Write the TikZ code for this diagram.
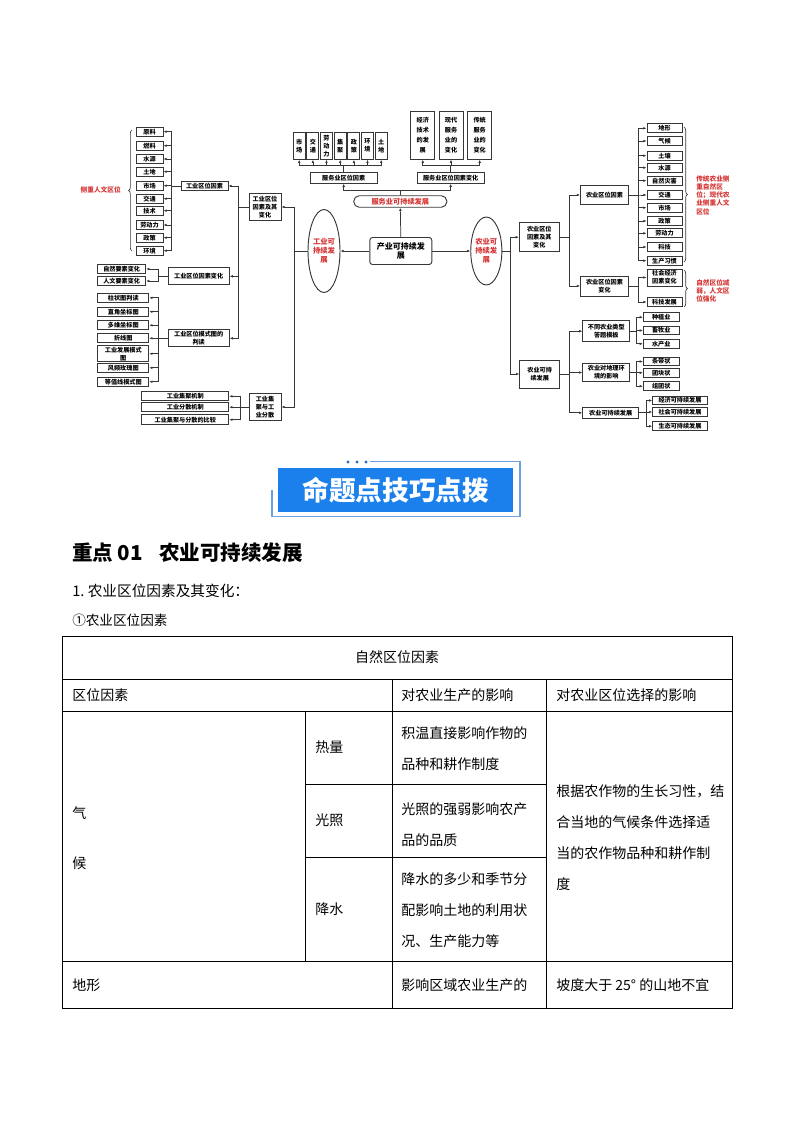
\documentclass[tikz,border=0pt]{standalone}
\usepackage{fontspec}
\setmainfont{Noto Sans CJK SC}
\usepackage{tikz}
\usetikzlibrary{arrows.meta,shapes.geometric,decorations.pathreplacing}
\definecolor{linec}{RGB}{55,55,55}
\definecolor{redtxt}{RGB}{214,52,52}
\definecolor{bannerblue}{RGB}{28,128,236}
\definecolor{framec}{RGB}{110,160,225}
\definecolor{dotc}{RGB}{40,110,200}
\newcommand\mfont{\fontsize{4.6}{6}\selectfont\bfseries}
\tikzset{
  box/.style={draw=linec, line width=0.7pt, fill=white, inner sep=0.6pt, align=center, font=\mfont},
  leaf/.style={box, minimum width=20.25pt, minimum height=6.6pt},
  rleaf/.style={box, minimum width=26.25pt, minimum height=6.6pt},
  vbox/.style={box, minimum width=9pt, minimum height=20.25pt, inner sep=0pt},
  tbox/.style={box, minimum width=18pt, minimum height=36pt, inner sep=0pt, font=\fontsize{4.6}{7.5}\selectfont\bfseries},
  oval/.style={draw=linec, line width=0.7pt, ellipse, fill=white, inner sep=0pt, align=center, text=redtxt, font=\fontsize{5.5}{6.8}\selectfont\bfseries},
  redlbl/.style={text=redtxt, align=left, font=\fontsize{5}{6.2}\selectfont\bfseries, inner sep=0pt},
  arrow/.style={draw=linec, line width=0.55pt, -{Latex[length=2.4pt,width=2pt]}},
  brace/.style={draw=linec, line width=0.5pt, decorate, decoration={brace, amplitude=2.5pt}},
  cell/.style={font=\fontsize{10.5}{23.25}\selectfont, align=left, inner sep=0pt, anchor=west},
  grid/.style={line width=0.75pt}
}
\begin{document}
\begin{tikzpicture}[x=0.75pt,y=-0.75pt]
  \useasboundingbox (0,0) rectangle (794,1123);

  % industry side
  \node[leaf] (a1) at (149.5,131.7) {原料};
  \node[leaf] (a2) at (149.5,145.7) {燃料};
  \node[leaf] (a3) at (149.5,159) {水源};
  \node[leaf] (a4) at (149.5,171.7) {土地};
  \node[leaf] (a5) at (149.5,185.7) {市场};
  \node[leaf] (a6) at (149.5,198.7) {交通};
  \node[leaf] (a7) at (149.5,210.7) {技术};
  \node[leaf] (a8) at (149.5,225) {劳动力};
  \node[leaf] (a9) at (149.5,237.7) {政策};
  \node[leaf] (a10) at (149.5,250.7) {环境};
  \draw[brace] (132,251) -- (132,130);
  \node[redlbl, anchor=east] (lbl1) at (121,190) {侧重人文区位};

  \node[box, minimum width=35.25pt, minimum height=6.4pt] (g11) at (204.5,186) {工业区位因素};
  \node[box, minimum width=45.75pt, minimum height=12.75pt] (g12) at (198.7,276.3) {工业区位因素变化};
  \node[box, minimum width=45.75pt, minimum height=12.75pt] (g13) at (198.7,338.3) {工业区位模式图的\\判读};

  \node[box, minimum width=36pt, minimum height=6.4pt] (b1) at (121.7,269) {自然要素变化};
  \node[box, minimum width=36pt, minimum height=6.4pt] (b2) at (121.7,281) {人文要素变化};

  \node[box, minimum width=38.25pt, minimum height=6.75pt] (c1) at (123.3,297.8) {柱状图判读};
  \node[box, minimum width=38.25pt, minimum height=6.75pt] (c2) at (123.3,311.7) {直角坐标图};
  \node[box, minimum width=38.25pt, minimum height=6.75pt] (c3) at (123.3,325.3) {多维坐标图};
  \node[box, minimum width=38.25pt, minimum height=6.75pt] (c4) at (123.3,338.3) {折线图};
  \node[box, minimum width=38.25pt, minimum height=12pt] (c5) at (123.3,353.7) {工业发展模式\\图};
  \node[box, minimum width=38.25pt, minimum height=6.75pt] (c6) at (123.3,367.8) {风频玫瑰图};
  \node[box, minimum width=38.25pt, minimum height=6.75pt] (c7) at (123.3,381.7) {等值线模式图};

  \node[box, minimum width=24pt, minimum height=20.25pt] (g1) at (265,207) {工业区位\\因素及其\\变化};
  \node[box, minimum width=24pt, minimum height=20.25pt] (g2) at (265,407) {工业集\\聚与工\\业分散};

  \node[box, minimum width=65.25pt, minimum height=6.75pt] (d1) at (185.3,396.3) {工业集聚机制};
  \node[box, minimum width=65.25pt, minimum height=6.75pt] (d2) at (185.3,407.2) {工业分散机制};
  \node[box, minimum width=65.25pt, minimum height=7.5pt] (d3) at (185.3,419.7) {工业集聚与分散的比较};

  \node[oval, minimum width=24pt, minimum height=62.25pt] (gy) at (324,251) {工业可\\持续发\\展};

  % centre and services
  \node[box, rounded corners=2pt, minimum width=46.5pt, minimum height=20.25pt, font=\fontsize{6}{7}\selectfont\bfseries] (cy) at (400.8,251) {产业可持续发\\展};
  \node[box, rounded corners=4pt, minimum width=69.75pt, minimum height=8.6pt, text=redtxt, font=\fontsize{5.4}{6}\selectfont\bfseries] (fw) at (400.3,201.5) {服务业可持续发展};
  \node[box, minimum width=50.25pt, minimum height=8.25pt] (fw1) at (343.7,177.7) {服务业区位因素};
  \node[box, minimum width=50.25pt, minimum height=8.25pt] (fw2) at (450.7,177.7) {服务业区位因素变化};

  \node[vbox] (s1) at (299.2,145.8) {市\\场};
  \node[vbox] (s2) at (312.9,145.8) {交\\通};
  \node[vbox] (s3) at (326.5,145.8) {劳\\动\\力};
  \node[vbox] (s4) at (340.2,145.8) {集\\聚};
  \node[vbox] (s5) at (353.9,145.8) {政\\策};
  \node[vbox] (s6) at (367.5,145.8) {环\\境};
  \node[vbox] (s7) at (381.2,145.8) {土\\地};

  \node[tbox] (t1) at (422.8,135.2) {经济\\技术\\的发\\展};
  \node[tbox] (t2) at (451,135.2) {现代\\服务\\业的\\变化};
  \node[tbox] (t3) at (479.7,135.2) {传统\\服务\\业的\\变化};

  % agriculture side
  \node[oval, minimum width=23.25pt, minimum height=51pt] (ny) at (486.3,251) {农业可\\持续发\\展};
  \node[box, minimum width=30pt, minimum height=21.75pt] (n1) at (539.3,237.2) {农业区位\\因素及其\\变化};
  \node[box, minimum width=30pt, minimum height=21pt] (n2) at (539.7,374) {农业可持\\续发展};
  \node[box, minimum width=36pt, minimum height=14.25pt] (n11) at (604.5,195) {农业区位因素};
  \node[box, minimum width=36pt, minimum height=15pt] (n12) at (604.5,286) {农业区位因素\\变化};

  \node[rleaf] (e1) at (664.5,128.3) {地形};
  \node[rleaf] (e2) at (664.5,141) {气候};
  \node[rleaf] (e3) at (664.5,155.7) {土壤};
  \node[rleaf] (e4) at (664.5,167.7) {水源};
  \node[rleaf] (e5) at (664.5,180.7) {自然灾害};
  \node[rleaf] (e6) at (664.5,195) {交通};
  \node[rleaf] (e7) at (664.5,207.7) {市场};
  \node[rleaf] (e8) at (664.5,221) {政策};
  \node[rleaf] (e9) at (664.5,233.3) {劳动力};
  \node[rleaf] (e10) at (664.5,247) {科技};
  \node[rleaf] (e11) at (664.5,260.7) {生产习惯};
  \node[rleaf, minimum height=12.75pt] (e12) at (664.5,277.5) {社会经济\\因素变化};
  \node[rleaf] (e13) at (664.5,302) {科技发展};
  \draw[brace] (684,127) -- (684,262);
  \draw[brace] (684,270) -- (684,307);
  \node[redlbl, anchor=west] (lbl2) at (696,195) {传统农业侧\\重自然区\\位；现代农\\业侧重人文\\区位};
  \node[redlbl, anchor=west] (lbl3) at (696,291) {自然区位减\\弱，人文区\\位强化};

  \node[box, minimum width=35.25pt, minimum height=15.75pt] (n21) at (606.3,331.2) {不同农业类型\\答题模板};
  \node[box, minimum width=35.25pt, minimum height=13.5pt] (n22) at (606.3,372.5) {农业对地理环\\境的影响};
  \node[box, minimum width=42pt, minimum height=8.25pt] (n23) at (610.7,412.8) {农业可持续发展};

  \node[box, minimum width=26.75pt, minimum height=6.4pt] (k1) at (661.2,317.2) {种植业};
  \node[box, minimum width=26.75pt, minimum height=6.4pt] (k2) at (661.2,330.5) {畜牧业};
  \node[box, minimum width=26.75pt, minimum height=6.4pt] (k3) at (661.2,343.8) {水产业};
  \node[box, minimum width=26.75pt, minimum height=6.4pt] (m1) at (661.2,361.5) {条带状};
  \node[box, minimum width=26.75pt, minimum height=6.4pt] (m2) at (661.2,372.8) {团块状};
  \node[box, minimum width=26.75pt, minimum height=6.4pt] (m3) at (661.2,386.2) {组团状};
  \node[box, minimum width=41pt, minimum height=6.4pt] (p1) at (680,400.5) {经济可持续发展};
  \node[box, minimum width=41pt, minimum height=6.4pt] (p2) at (680,412) {社会可持续发展};
  \node[box, minimum width=41pt, minimum height=6.4pt] (p3) at (680,426.2) {生态可持续发展};

  % branch points
  \coordinate (sa) at (171.7,186);
  \coordinate (sb) at (158.3,276.3);
  \coordinate (sc) at (158.3,338.3);
  \coordinate (sg) at (238,207);
  \coordinate (sd) at (240.7,407);
  \coordinate (sgy) at (294.3,251);
  \coordinate (sf) at (400.3,190.7);
  \coordinate (ss) at (343.7,165.7);
  \coordinate (st) at (450.7,165.7);
  \coordinate (sn) at (510,251);
  \coordinate (sn1) at (569.5,237.2);
  \coordinate (se) at (638.3,195);
  \coordinate (se2) at (638.3,286);
  \coordinate (sn2) at (569.5,374);
  \coordinate (sk) at (636.7,331.2);
  \coordinate (sm) at (636.7,372.5);
  \coordinate (sp) at (646.7,412.8);

  \draw[arrow] (cy.west) -- (gy.east); \draw[arrow] (cy.east) -- (ny.west); \draw[arrow] (cy.north) -- (fw.south);
  \draw[arrow] (fw.north) -- (sf) -| (fw1.south); \draw[arrow] (fw.north) -- (sf) -| (fw2.south);
  \draw[arrow] (fw1.north) -- (ss) -| (s1.south); \draw[arrow] (fw1.north) -- (ss) -| (s2.south);
  \draw[arrow] (fw1.north) -- (ss) -| (s3.south); \draw[arrow] (fw1.north) -- (ss) -| (s4.south);
  \draw[arrow] (fw1.north) -- (ss) -| (s5.south); \draw[arrow] (fw1.north) -- (ss) -| (s6.south);
  \draw[arrow] (fw1.north) -- (ss) -| (s7.south);
  \draw[arrow] (fw2.north) -- (st) -| (t1.south); \draw[arrow] (fw2.north) -- (st) -| (t2.south);
  \draw[arrow] (fw2.north) -- (st) -| (t3.south);

  \draw[arrow] (gy.west) -- (sgy) |- (g1.east); \draw[arrow] (gy.west) -- (sgy) |- (g2.east);
  \draw[arrow] (g1.west) -- (sg) |- (g11.east); \draw[arrow] (g1.west) -- (sg) |- (g12.east);
  \draw[arrow] (g1.west) -- (sg) |- (g13.east);
  \draw[arrow] (g11.west) -- (sa) |- (a1.east); \draw[arrow] (g11.west) -- (sa) |- (a2.east);
  \draw[arrow] (g11.west) -- (sa) |- (a3.east); \draw[arrow] (g11.west) -- (sa) |- (a4.east);
  \draw[arrow] (g11.west) -- (sa) |- (a5.east); \draw[arrow] (g11.west) -- (sa) |- (a6.east);
  \draw[arrow] (g11.west) -- (sa) |- (a7.east); \draw[arrow] (g11.west) -- (sa) |- (a8.east);
  \draw[arrow] (g11.west) -- (sa) |- (a9.east); \draw[arrow] (g11.west) -- (sa) |- (a10.east);
  \draw[arrow] (g12.west) -- (sb) |- (b1.east); \draw[arrow] (g12.west) -- (sb) |- (b2.east);
  \draw[arrow] (g13.west) -- (sc) |- (c1.east); \draw[arrow] (g13.west) -- (sc) |- (c2.east);
  \draw[arrow] (g13.west) -- (sc) |- (c3.east); \draw[arrow] (g13.west) -- (sc) |- (c4.east);
  \draw[arrow] (g13.west) -- (sc) |- (c5.east); \draw[arrow] (g13.west) -- (sc) |- (c6.east);
  \draw[arrow] (g13.west) -- (sc) |- (c7.east);
  \draw[arrow] (g2.west) -- (sd) |- (d1.east); \draw[arrow] (g2.west) -- (sd) |- (d2.east);
  \draw[arrow] (g2.west) -- (sd) |- (d3.east);

  \draw[arrow] (ny.east) -- (sn) |- (n1.west); \draw[arrow] (ny.east) -- (sn) |- (n2.west);
  \draw[arrow] (n1.east) -- (sn1) |- (n11.west); \draw[arrow] (n1.east) -- (sn1) |- (n12.west);
  \draw[arrow] (n11.east) -- (se) |- (e1.west); \draw[arrow] (n11.east) -- (se) |- (e2.west);
  \draw[arrow] (n11.east) -- (se) |- (e3.west); \draw[arrow] (n11.east) -- (se) |- (e4.west);
  \draw[arrow] (n11.east) -- (se) |- (e5.west); \draw[arrow] (n11.east) -- (se) |- (e6.west);
  \draw[arrow] (n11.east) -- (se) |- (e7.west); \draw[arrow] (n11.east) -- (se) |- (e8.west);
  \draw[arrow] (n11.east) -- (se) |- (e9.west); \draw[arrow] (n11.east) -- (se) |- (e10.west);
  \draw[arrow] (n11.east) -- (se) |- (e11.west);
  \draw[arrow] (n12.east) -- (se2) |- (e12.west); \draw[arrow] (n12.east) -- (se2) |- (e13.west);
  \draw[arrow] (n2.east) -- (sn2) |- (n21.west); \draw[arrow] (n2.east) -- (sn2) |- (n22.west);
  \draw[arrow] (n2.east) -- (sn2) |- (n23.west);
  \draw[arrow] (n21.east) -- (sk) |- (k1.west); \draw[arrow] (n21.east) -- (sk) |- (k2.west);
  \draw[arrow] (n21.east) -- (sk) |- (k3.west);
  \draw[arrow] (n22.east) -- (sm) |- (m1.west); \draw[arrow] (n22.east) -- (sm) |- (m2.west);
  \draw[arrow] (n22.east) -- (sm) |- (m3.west);
  \draw[arrow] (n23.east) -- (sp) |- (p1.west); \draw[arrow] (n23.east) -- (sp) |- (p2.west);
  \draw[arrow] (n23.east) -- (sp) |- (p3.west);

  % banner
  \draw[framec, line width=0.9pt] (370,461.5) -- (520,461.5) -- (520,516.5) -- (272,516.5) -- (272,490);
  \fill[dotc] (348,462) circle[radius=1.3pt] (357,462) circle[radius=1.3pt] (366,462) circle[radius=1.3pt];
  \node[fill=bannerblue, minimum width=176.25pt, minimum height=32.5pt, inner sep=0pt, text=white, font=\fontsize{20}{22}\selectfont\bfseries] (bn) at (395.8,490) {命题点技巧点拨};

  % headings
  \node[anchor=west, inner sep=0pt, font=\fontsize{15.4}{18}\selectfont\bfseries] (hd) at (72,553) {重点\hspace{3.5pt}01\hspace{12pt}农业可持续发展};
  \node[anchor=west, inner sep=0pt, font=\fontsize{11}{13}\selectfont] (sub1) at (72,591) {1.\hspace{2.5pt}农业区位因素及其变化：};
  \node[anchor=west, inner sep=0pt, font=\fontsize{10.2}{12}\selectfont] (sub2) at (72,620) {①农业区位因素};

  % table
  \draw[grid] (62.5,636) rectangle (732,1008);
  \draw[grid] (62.5,679) -- (732,679);
  \draw[grid] (62.5,711) -- (732,711);
  \draw[grid] (62.5,961) -- (732,961);
  \draw[grid] (305,784) -- (546.7,784);
  \draw[grid] (305,857) -- (546.7,857);
  \draw[grid] (305,711) -- (305,961);
  \draw[grid] (392.7,679) -- (392.7,1008);
  \draw[grid] (546.7,679) -- (546.7,1008);

  \node[cell, anchor=center] (tt) at (397,657.5) {自然区位因素};
  \node[cell] (th1) at (72,695) {区位因素};
  \node[cell] (th2) at (401,695) {对农业生产的影响};
  \node[cell] (th3) at (556,695) {对农业区位选择的影响};
  \node[cell, font=\fontsize{10.5}{37.5}\selectfont] (tq) at (72,838) {气\\候};
  \node[cell] (tr1) at (315,747.5) {热量};
  \node[cell] (tr2) at (315,820.5) {光照};
  \node[cell] (tr3) at (315,909) {降水};
  \node[cell] (tv1) at (401,748.5) {积温直接影响作物的\\品种和耕作制度};
  \node[cell] (tv2) at (401,825) {光照的强弱影响农产\\品的品质};
  \node[cell] (tv3) at (401,910.5) {降水的多少和季节分\\配影响土地的利用状\\况、生产能力等};
  \node[cell] (tw) at (556,837.5) {根据农作物的生长习性，结\\合当地的气候条件选择适\\当的农作物品种和耕作制\\度};
  \node[cell] (td1) at (72,985) {地形};
  \node[cell] (td2) at (401,985) {影响区域农业生产的};
  \node[cell] (td3) at (556,985) {坡度大于 25° 的山地不宜};
\end{tikzpicture}
\end{document}
